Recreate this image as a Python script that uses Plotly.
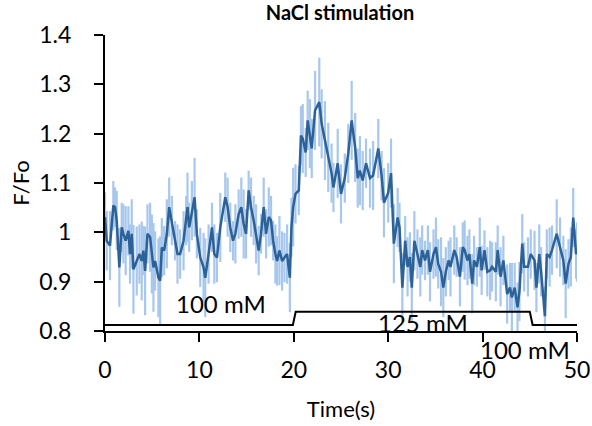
import plotly.graph_objects as go

# --- readings of the mean trace (time in s, F/Fo) ---
time_a = [0, 0.18, 0.53, 0.88, 1.06, 1.24, 1.52, 1.77, 1.95, 2.19,
          2.48, 2.65, 2.83, 3.01, 3.36, 3.65, 3.89, 4.07, 4.25, 4.50,
          4.78, 4.96, 5.13, 5.31, 5.66, 5.84, 6.02, 6.27, 6.55, 6.80,
          7.08, 7.43, 7.68, 7.96, 8.32, 8.60, 8.74, 8.92, 9.20, 9.49,
          9.73, 10.09, 10.44, 10.62, 10.97, 11.33, 11.58, 11.86, 12.21, 12.74,
          12.99, 13.27, 13.56, 13.81, 14.16, 14.44, 14.69, 14.94, 15.22, 15.47,
          15.75, 16.00, 16.28, 16.53, 16.81, 17.06, 17.35, 17.59, 17.81, 18.05,
          18.23, 18.48, 18.76, 19.01, 19.29, 19.58, 19.75, 19.93, 20.18, 20.53]
ratio_a = [1.031, 0.983, 0.973, 1.054, 1.051, 1.024, 0.929, 1.010, 0.997, 0.983,
           1.003, 0.956, 0.997, 0.925, 0.942, 0.956, 0.942, 0.963, 0.922, 0.997,
           0.990, 0.956, 0.929, 0.942, 0.908, 0.902, 0.969, 0.963, 0.997, 1.051,
           1.024, 0.983, 0.956, 0.956, 0.983, 1.024, 1.051, 1.010, 1.044, 1.071,
           0.997, 0.949, 0.929, 0.908, 0.956, 1.010, 0.956, 0.949, 1.010, 1.071,
           1.051, 1.010, 0.983, 0.997, 1.037, 1.051, 1.017, 0.997, 1.085, 1.051,
           1.024, 0.997, 0.963, 0.997, 1.051, 0.997, 1.031, 1.024, 0.983, 0.956,
           0.942, 0.963, 0.942, 0.949, 0.956, 0.908, 1.010, 1.051, 1.078, 1.085]
err_a = [0.05, 0.06, 0.07, 0.05, 0.04, 0.06, 0.08, 0.05, 0.06, 0.07,
         0.05, 0.06, 0.07, 0.09, 0.07, 0.06, 0.08, 0.05, 0.09, 0.06,
         0.07, 0.08, 0.09, 0.06, 0.08, 0.09, 0.06, 0.05, 0.07, 0.06,
         0.05, 0.04, 0.06, 0.05, 0.06, 0.05, 0.07, 0.05, 0.06, 0.08,
         0.05, 0.06, 0.07, 0.08, 0.06, 0.05, 0.06, 0.05, 0.07, 0.05,
         0.06, 0.05, 0.04, 0.06, 0.05, 0.06, 0.07, 0.05, 0.04, 0.06,
         0.05, 0.06, 0.05, 0.04, 0.06, 0.05, 0.06, 0.05, 0.04, 0.06,
         0.05, 0.07, 0.06, 0.05, 0.06, 0.07, 0.06, 0.08, 0.06, 0.05]

time_b = [20.76, 20.95, 21.26, 21.47, 21.70, 21.90, 22.25, 22.70, 22.95, 23.30,
          23.65, 24.00, 24.20, 24.65, 25.00, 25.40, 25.77, 26.13, 26.50, 26.77,
          27.00, 27.30, 27.65, 28.07, 28.40, 28.95, 29.30, 29.55, 30.00, 30.30]
ratio_b = [1.196, 1.190, 1.162, 1.227, 1.200, 1.170, 1.247, 1.264, 1.220, 1.186,
           1.152, 1.120, 1.091, 1.140, 1.078, 1.110, 1.160, 1.227, 1.172, 1.110,
           1.125, 1.105, 1.140, 1.110, 1.115, 1.170, 1.115, 1.060, 1.080, 1.120]
err_b = [0.06, 0.07, 0.05, 0.06, 0.07, 0.06, 0.08, 0.09, 0.07, 0.08,
         0.07, 0.06, 0.05, 0.07, 0.06, 0.05, 0.06, 0.08, 0.07, 0.06,
         0.07, 0.06, 0.05, 0.06, 0.07, 0.06, 0.05, 0.07, 0.06, 0.07]

time_c = [30.6, 31.0, 31.2, 31.5, 31.8, 32.05, 32.3, 32.5, 32.77, 33.1,
          33.4, 33.6, 33.9, 34.2, 34.43, 34.8, 35.06, 35.3, 35.6, 35.84,
          36.1, 36.4, 36.6, 37.0, 37.25, 37.6, 37.9, 38.1, 38.4, 38.6,
          38.9, 39.1, 39.4, 39.7, 39.9, 40.2, 40.5, 40.8, 41.0, 41.4,
          41.6, 41.9, 42.2, 42.6, 42.9, 43.1, 43.4, 43.7, 43.9, 44.2,
          44.4, 44.8, 45.1, 45.5, 45.7, 46.0, 46.2, 46.6, 46.8, 47.1,
          47.35, 47.85, 48.2, 48.55, 48.8, 49.1, 49.35, 49.6, 49.9, 50.0]
ratio_c = [0.977, 1.030, 1.010, 0.888, 0.983, 0.930, 0.950, 0.888, 0.983, 0.956,
           0.930, 0.964, 0.943, 0.964, 0.920, 0.956, 0.970, 0.936, 0.920, 0.888,
           0.920, 0.943, 0.930, 0.964, 0.950, 0.910, 0.970, 0.964, 0.943, 0.956,
           0.896, 0.943, 0.930, 0.970, 0.923, 0.964, 0.920, 0.923, 0.930, 0.920,
           0.964, 0.910, 0.943, 0.875, 0.888, 0.868, 0.888, 0.848, 0.880, 0.977,
           0.930, 0.930, 0.956, 0.943, 0.888, 0.956, 0.920, 0.830, 0.956, 0.950,
           0.964, 0.997, 0.970, 0.943, 0.896, 0.936, 0.950, 1.030, 0.956, 0.960]
err_c = [0.08, 0.06, 0.05, 0.07, 0.05, 0.06, 0.05, 0.07, 0.06, 0.05,
         0.06, 0.05, 0.04, 0.05, 0.06, 0.05, 0.06, 0.05, 0.07, 0.06,
         0.05, 0.04, 0.06, 0.05, 0.04, 0.06, 0.05, 0.06, 0.05, 0.05,
         0.06, 0.05, 0.04, 0.06, 0.05, 0.04, 0.05, 0.06, 0.05, 0.06,
         0.05, 0.06, 0.05, 0.06, 0.05, 0.07, 0.05, 0.05, 0.06, 0.06,
         0.05, 0.06, 0.05, 0.06, 0.05, 0.06, 0.05, 0.06, 0.05, 0.06,
         0.05, 0.07, 0.06, 0.05, 0.07, 0.05, 0.06, 0.06, 0.05, 0.06]

time_s = time_a + time_b + time_c
ratio = ratio_a + ratio_b + ratio_c
ratio_err = err_a + err_b + err_c

stim_t = [0, 19.9, 20.2, 45.0, 45.3, 50]
stim_v = [0.812, 0.812, 0.839, 0.839, 0.812, 0.812]

labels = ["100 mM", "125 mM", "100 mM"]
label_t = [12.3, 33.7, 44.5]
label_v = [0.855, 0.818, 0.8]
label_yshift = [0, 0, -18]  # last label sits just below the x axis

y_ticks = [0.8, 0.9, 1.0, 1.1, 1.2, 1.3, 1.4]
y_ticktext = ["0.8", "0.9", "1", "1.1", "1.2", "1.3", "1.4"]
x_ticks = [0, 10, 20, 30, 40, 50]

FONT = "Lato, Open Sans, sans-serif"
W, H = 592, 426

fig = go.Figure()
fig.add_trace(go.Scatter(
    x=time_s, y=ratio, mode="markers",
    marker=dict(size=1, color="rgba(0,0,0,0)"),
    error_y=dict(type="data", array=ratio_err, visible=True,
                 color="#a7c7ec", thickness=2.2, width=0),
    showlegend=False, hoverinfo="skip",
))
fig.add_trace(go.Scatter(
    x=time_s, y=ratio, mode="lines",
    line=dict(color="#2d6298", width=2.5),
    showlegend=False,
))
fig.add_trace(go.Scatter(
    x=stim_t, y=stim_v, mode="lines",
    line=dict(color="black", width=2),
    showlegend=False,
))
for txt, tx, vy, ys in zip(labels, label_t, label_v, label_yshift):
    fig.add_annotation(x=tx, y=vy, xref="x", yref="y", text=txt, yshift=ys,
                       showarrow=False, xanchor="center", yanchor="middle",
                       font=dict(family=FONT, size=24, color="black"))

fig.update_layout(
    width=W, height=H,
    margin=dict(l=105, r=15, t=35, b=95),
    paper_bgcolor="white", plot_bgcolor="white",
    font=dict(family=FONT, size=23, color="black"),
    title=dict(text="<b>NaCl stimulation</b>", x=340 / W, xanchor="center",
               y=1 - 13 / H, yanchor="middle",
               font=dict(family=FONT, size=20, color="black")),
    xaxis=dict(range=[0, 50], tickvals=x_ticks, showgrid=False, zeroline=False,
               showline=True, linecolor="black", linewidth=2,
               ticks="outside", ticklen=9, tickwidth=2, tickcolor="black",
               ticklabelstandoff=8, automargin=False,
               title=dict(text="Time(s)", standoff=20, font=dict(size=22))),
    yaxis=dict(range=[0.8, 1.4], tickvals=y_ticks, ticktext=y_ticktext,
               showgrid=False, zeroline=False,
               showline=True, linecolor="black", linewidth=2,
               ticks="outside", ticklen=9, tickwidth=2, tickcolor="black",
               ticklabelstandoff=18, automargin=False,
               title=dict(text="F/Fo", standoff=4, font=dict(size=22))),
)

fig.write_html(
    "out.html",
    config={"displayModeBar": False},
    post_script="document.body.style.margin='0';document.body.style.overflow='hidden';",
)
